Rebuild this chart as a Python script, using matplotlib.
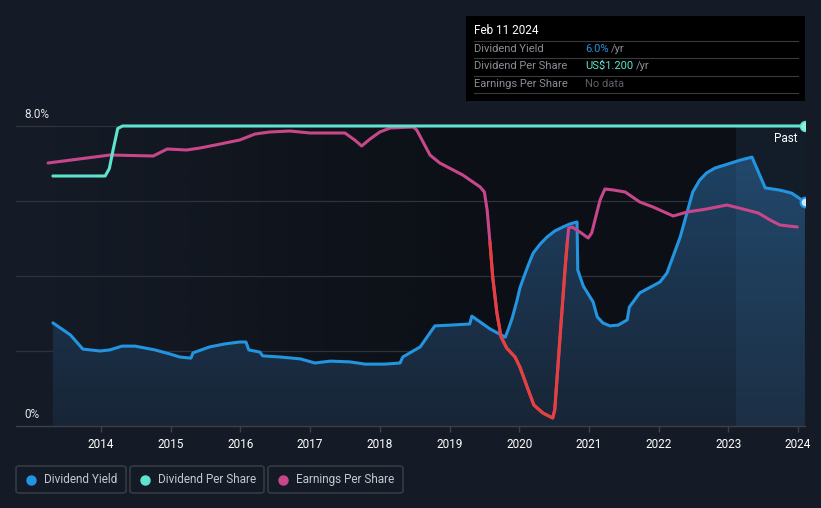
import numpy as np
import matplotlib
matplotlib.use("Agg")
import matplotlib.pyplot as plt
from matplotlib.patches import Rectangle, FancyBboxPatch
from matplotlib.lines import Line2D

# ---------------- data ----------------
dy_years = [2013.31, 2013.56, 2013.74, 2013.99, 2014.13, 2014.30, 2014.49, 2014.77, 2014.99,
            2015.13, 2015.29, 2015.32, 2015.56, 2015.78, 2015.99, 2016.08, 2016.12, 2016.28,
            2016.32, 2016.57, 2016.86, 2017.07, 2017.29, 2017.57, 2017.79, 2018.07, 2018.29,
            2018.33, 2018.58, 2018.79, 2019.01, 2019.29, 2019.32, 2019.58, 2019.80, 2019.84,
            2019.90, 2019.97, 2020.01, 2020.05, 2020.13, 2020.20, 2020.30, 2020.40, 2020.51,
            2020.63, 2020.73, 2020.83, 2020.84, 2020.92, 2021.06,
            2021.12, 2021.20, 2021.30, 2021.42, 2021.55, 2021.58, 2021.73, 2022.02, 2022.12,
            2022.31, 2022.49, 2022.59, 2022.69, 2022.81, 2022.95, 2023.17, 2023.34, 2023.53,
            2023.74, 2023.91, 2024.10]
dy_values = [2.75, 2.43, 2.05, 2.00, 2.03, 2.13, 2.13, 2.03, 1.92,
             1.84, 1.81, 1.95, 2.11, 2.19, 2.24, 2.24, 2.03, 1.97,
             1.87, 1.84, 1.79, 1.68, 1.73, 1.71, 1.65, 1.65, 1.68,
             1.84, 2.11, 2.67, 2.69, 2.72, 2.93, 2.59, 2.37, 2.56,
             2.88, 3.36, 3.68, 3.89, 4.29, 4.61, 4.85, 5.04, 5.20,
             5.31, 5.39, 5.44, 4.16, 3.73, 3.31,
             2.91, 2.75, 2.67, 2.69, 2.83, 3.17, 3.55, 3.84, 4.08,
             5.04, 6.24, 6.56, 6.75, 6.88, 6.96, 7.09, 7.17, 6.35,
             6.29, 6.21, 5.97]

dps_years = [2013.31, 2014.06, 2014.12, 2014.17, 2014.24, 2014.31, 2024.10]
dps_values = [1.00, 1.00, 1.03, 1.10, 1.19, 1.20, 1.20]

eps_years = [2013.24, 2014.13, 2014.75, 2014.95, 2015.23, 2015.42, 2015.64, 2015.99, 2016.21,
             2016.42, 2016.71, 2017.00, 2017.50, 2017.64, 2017.74, 2017.86, 2018.00, 2018.15,
             2018.48, 2018.53, 2018.72, 2018.86, 2019.19, 2019.44, 2019.50, 2019.54, 2019.58,
             2019.62, 2019.68, 2019.74, 2019.82, 2019.94, 2020.01, 2020.13, 2020.21, 2020.34,
             2020.48, 2020.51, 2020.59, 2020.66, 2020.69, 2020.71, 2020.76, 2020.87, 2020.99,
             2021.04, 2021.16, 2021.23, 2021.35, 2021.52, 2021.73, 2021.92, 2022.21, 2022.41,
             2022.69, 2022.98, 2023.21, 2023.43, 2023.60, 2023.74, 2023.99]
eps_values = [0.79, 0.87, 0.86, 0.93, 0.92, 0.94, 0.97, 1.02, 1.08,
              1.10, 1.11, 1.09, 1.09, 1.02, 0.96, 1.03, 1.10, 1.14,
              1.15, 1.12, 0.87, 0.79, 0.67, 0.55, 0.50, 0.32, 0.00,
              -0.35, -0.71, -0.95, -1.06, -1.15, -1.25, -1.48, -1.63, -1.71,
              -1.76, -1.68, -0.91, -0.25, 0.00, 0.14, 0.15, 0.10, 0.04,
              0.09, 0.42, 0.53, 0.52, 0.50, 0.40, 0.35, 0.26, 0.30,
              0.33, 0.37, 0.33, 0.29, 0.22, 0.17, 0.15]

year_ticks = list(range(2014, 2025))
year_labels = [str(y) for y in year_ticks]
past_start = 2023.11

# ---------------- styling ----------------
W, H = 821, 508
BG = "#151b26"
BLUE = "#2394e0"
TEAL = "#5fe3cf"
MAG = "#c8478a"
RED = "#e5403d"
GRID = "#2d323b"
TICKFONT = ["Roboto", "DejaVu Sans"]
FONT = ["Roboto", "DejaVu Sans"]

def fx(x):
    return x / W

def fy(y):
    return 1 - y / H

fig = plt.figure(figsize=(W / 100, H / 100), dpi=100, facecolor=BG)

ax_left, ax_right, ax_top, ax_bot = 16, 805, 118, 426
ax = fig.add_axes([fx(ax_left), fy(ax_bot), fx(ax_right) - fx(ax_left), fy(ax_top) - fy(ax_bot)])
ax.set_facecolor(BG)
px_per_pct = 37.5
ytop = (ax_bot - ax_top) / px_per_pct
x0 = 2014 - (101 - ax_left) / 69.7
x1 = 2014 + (ax_right - 101) / 69.7
ax.set_xlim(x0, x1)
ax.set_ylim(0, ytop)

# plot background: horizontal darkening gradient within 0..8%
grad = np.clip((np.linspace(x0, x1, 400) - 2013.3) / (2019.0 - 2013.3), 0, 1)
dark = np.zeros((1, 400, 4))
dark[..., 0] = 5 / 255
dark[..., 1] = 7 / 255
dark[..., 2] = 10 / 255
dark[..., 3] = 0.55 * grad
ax.imshow(dark, extent=[x0, x1, 0, 8], aspect="auto", zorder=0.5, interpolation="bilinear")

# grid lines
for v in [2, 4, 6, 8]:
    ax.axhline(v, color=GRID, lw=0.9, zorder=1)

# gradient fill under dividend yield
dyx = np.array(dy_years)
dyv = np.array(dy_values)
poly = ax.fill_between(dyx, 0, dyv, color="none", lw=0, zorder=2)
gy = np.linspace(0, 1, 256)[:, None]
bottom_c = np.array([24, 37, 54]) / 255
top_c = np.array([30, 66, 100]) / 255
img = np.zeros((256, 1, 4))
img[..., :3] = (bottom_c + (top_c - bottom_c) * gy[..., None])[:, :, :]
img[..., 3] = 1.0
im = ax.imshow(img, extent=[x0, x1, 0, 7.3], origin="lower", aspect="auto", zorder=2,
               interpolation="bilinear")
im.set_clip_path(poly.get_paths()[0], transform=ax.transData)

# past band
ax.fill_between([past_start, x1], 0, 8, color="#3d79aa", alpha=0.13, lw=0, zorder=2.5)

ax.plot(dyx, dyv, color=BLUE, lw=2.2, zorder=3, solid_capstyle="round", solid_joinstyle="round")
ax.plot([dyx[-1]], [dyv[-1]], marker="o", ms=7, mfc="#cfe6fb", mec=BLUE, mew=1.5, zorder=4)

# axes styling
for s in ["top", "right", "left"]:
    ax.spines[s].set_visible(False)
ax.spines["bottom"].set_color("#3b404a")
ax.spines["bottom"].set_linewidth(1.0)
ax.set_yticks([])
ax.set_xticks(year_ticks)
ax.set_xticklabels(year_labels)
ax.tick_params(axis="x", colors="#3b404a", length=4, width=1, pad=5)
for lab in ax.get_xticklabels():
    lab.set_color("#ffffff")
    lab.set_fontsize(8.5)
    lab.set_family(TICKFONT)

# EPS axis: zero at pixel 242
ax_eps = ax.twinx()
zero_pct = (ax_bot - 242) / px_per_pct
k = 100 / px_per_pct  # pct per eps unit
ax_eps.set_ylim((0 - zero_pct) / k, (ytop - zero_pct) / k)
ax_eps.set_xlim(x0, x1)
ax_eps.axis("off")
ex = np.array(eps_years)
ev = np.array(eps_values)
ax_eps.plot(ex, ev, color=MAG, lw=2.2, solid_joinstyle="round", solid_capstyle="round")
neg = np.where(ev <= 0, ev, np.nan)
ax_eps.plot(ex, neg, color=RED, lw=2.2, solid_joinstyle="round", solid_capstyle="round")

# DPS axis: 1.2 at 8%
ax_dps = ax.twinx()
ax_dps.set_ylim(0, 1.2 * ytop / 8)
ax_dps.set_xlim(x0, x1)
ax_dps.axis("off")
ax_dps.plot(dps_years, dps_values, color=TEAL, lw=2.2, solid_joinstyle="round", solid_capstyle="round")
ax_dps.plot([dps_years[-1]], [dps_values[-1]], marker="o", ms=7, mfc="#8ef0e0", mec=TEAL, mew=1.2)

# y labels
fig.text(fx(24), fy(114), "8.0%", color="#e6e6e6", fontsize=8.5, va="center", ha="left", family=FONT)
fig.text(fx(24), fy(414), "0%", color="#e6e6e6", fontsize=8.5, va="center", ha="left", family=FONT)
fig.text(fx(797), fy(138), "Past", color="#ffffff", fontsize=8.5, va="center", ha="right", family=FONT)

# tooltip
fig.patches.append(Rectangle((fx(466), fy(101)), fx(805) - fx(466), fy(16) - fy(101),
                             transform=fig.transFigure, facecolor="#000000", edgecolor="none", zorder=10))
fig.text(fx(474), fy(31), "Feb 11 2024", color="#ffffff", fontsize=8.5, va="center", ha="left",
         family=FONT, zorder=11)
for yy in [41, 58, 76, 93]:
    fig.add_artist(Line2D([fx(474), fx(798)], [fy(yy), fy(yy)], color="#3a3a3a", lw=0.8,
                          transform=fig.transFigure, zorder=11))
rows = [("Dividend Yield", 49, "6.0%", BLUE, 611),
        ("Dividend Per Share", 66, "US$1.200", TEAL, 636),
        ("Earnings Per Share", 84, "No data", "#5c6066", None)]
for lab, yy, val, col, slash_x in rows:
    fig.text(fx(474), fy(yy), lab, color="#8a8f97", fontsize=8, va="center", ha="left",
             family=FONT, zorder=11)
    fig.text(fx(585), fy(yy), val, color=col, fontsize=8, va="center", ha="left",
             family=FONT, zorder=11)
    if slash_x:
        fig.text(fx(slash_x), fy(yy), "/yr", color="#8a8f97", fontsize=8, va="center", ha="left",
                 family=FONT, zorder=11)

# legend boxes
legend = [("Dividend Yield", BLUE, 16, 126), ("Dividend Per Share", TEAL, 130, 264),
          ("Earnings Per Share", MAG, 268, 403)]
for lab, col, xa, xb in legend:
    fig.patches.append(FancyBboxPatch((fx(xa), fy(493)), fx(xb) - fx(xa), fy(466) - fy(493),
                                      boxstyle="round,pad=0,rounding_size=0.004",
                                      transform=fig.transFigure, facecolor="none",
                                      edgecolor="#3b3f48", lw=1.0))
    fig.add_artist(Line2D([fx(xa + 15)], [fy(479.5)], marker="o", ms=6.5, color=col, mec=col,
                          transform=fig.transFigure))
    fig.text(fx(xa + 28), fy(479.5), lab, color="#c4c8ce", fontsize=8.5, va="center", ha="left",
             family=TICKFONT)

fig.savefig("out.png", dpi=100, facecolor=BG)
